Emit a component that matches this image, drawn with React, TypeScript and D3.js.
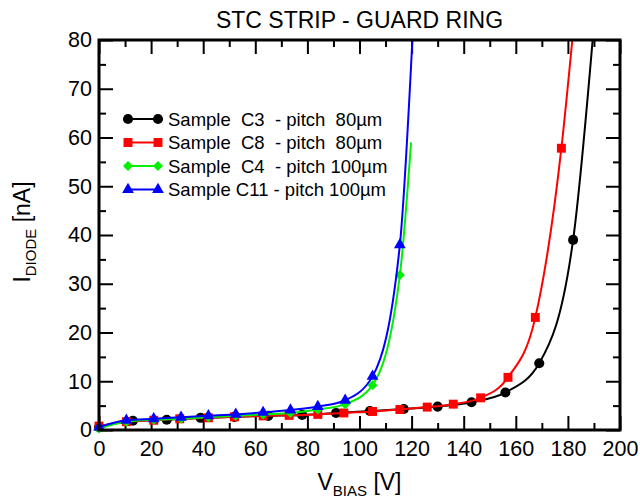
import React, { useEffect, useRef } from 'react';
import * as d3 from 'd3';

// Sample C3 - pitch 80um (black circles)
const c3V = [0, 13, 26, 39, 52, 65, 78, 91, 104, 117, 130, 143, 156, 169, 182];
const c3I = [0.6, 1.9, 2.1, 2.5, 2.7, 2.9, 3.1, 3.5, 3.9, 4.3, 4.8, 5.7, 7.7, 13.7, 39];
const c3Tail = [189.5, 80];

// Sample C8 - pitch 80um (red squares)
const c8V = [0, 10.5, 21, 31, 42, 52, 63, 73, 84, 94, 105, 115.5, 126, 136, 146.5, 157, 167.5, 177.5];
const c8I = [0.8, 1.7, 2.0, 2.3, 2.5, 2.7, 2.9, 3.0, 3.2, 3.5, 3.8, 4.2, 4.7, 5.3, 6.6, 10.8, 23.1, 57.8];
const c8Tail = [181.7, 80];

// Sample C4 - pitch 100um (green diamonds)
const c4V = [0, 10.5, 21, 31.5, 42, 52.5, 63, 73.5, 84, 94.5, 105, 115.5];
const c4I = [0.3, 1.7, 2.1, 2.3, 2.6, 2.9, 3.2, 3.5, 4.2, 5.3, 9.2, 31.8];
const c4Tail = [119.8, 59];

// Sample C11 - pitch 100um (blue triangles)
const c11V = [0, 10.5, 21, 31.5, 42, 52.5, 63, 73.5, 84, 94.5, 105, 115.5];
const c11I = [0.6, 2.0, 2.3, 2.6, 2.9, 3.2, 3.6, 4.1, 4.8, 6.1, 11.0, 38.0];
const c11Tail = [120.3, 80];

const xTicks = [0, 20, 40, 60, 80, 100, 120, 140, 160, 180, 200];
const yTicks = [0, 10, 20, 30, 40, 50, 60, 70, 80];

const series = [
  { label: 'Sample  C3  - pitch  80\u00b5m', color: '#000000', symbol: d3.symbolCircle, size: 80, rot: 0, v: c3V, i: c3I, tail: c3Tail },
  { label: 'Sample  C8  - pitch  80\u00b5m', color: '#ff0000', symbol: d3.symbolSquare, size: 80, rot: 0, v: c8V, i: c8I, tail: c8Tail },
  { label: 'Sample  C4  - pitch 100\u00b5m', color: '#00f000', symbol: d3.symbolSquare, size: 50, rot: 45, v: c4V, i: c4I, tail: c4Tail },
  { label: 'Sample C11 - pitch 100\u00b5m', color: '#0000ff', symbol: d3.symbolTriangle, size: 60, rot: 0, v: c11V, i: c11I, tail: c11Tail },
];

const W = 640, H = 500;
const p = { top: 40, left: 99, right: 20, bottom: 70 };
const font = '"Liberation Sans", Arial, Helvetica, sans-serif';

export default function App() {
  const ref = useRef<SVGSVGElement>(null);

  useEffect(() => {
    const svg = d3.select(ref.current);
    svg.selectAll('*').remove();

    const x = d3.scaleLinear().domain([0, 200]).range([p.left, W - p.right]);
    const y = d3.scaleLinear().domain([0, 80]).range([H - p.bottom, p.top]);

    // title
    svg.append('text')
      .attr('x', (p.left + W - p.right) / 2).attr('y', 28)
      .attr('text-anchor', 'middle')
      .attr('font-family', font).attr('font-size', 23)
      .text('STC STRIP - GUARD RING');

    // axes, ticks pointing inward on all four sides
    const minorX = d3.range(10, 200, 20);
    const minorY = d3.range(5, 80, 10);
    const major = 14, minor = 7;

    const styleAxis = (g: any) => {
      g.select('.domain').remove();
      g.selectAll('line').attr('stroke', '#000').attr('stroke-width', 2);
      g.selectAll('text').attr('font-family', font).attr('font-size', 21.5).attr('fill', '#000');
    };

    svg.append('g').attr('transform', `translate(0,${y(0)})`)
      .call(d3.axisBottom(x).tickValues(xTicks).tickSize(-major).tickPadding(11).tickFormat(d3.format('d')))
      .call(styleAxis);
    svg.append('g').attr('transform', `translate(0,${y(0)})`)
      .call(d3.axisBottom(x).tickValues(minorX).tickSize(-minor).tickFormat(() => ''))
      .call(styleAxis);
    svg.append('g').attr('transform', `translate(0,${y(80)})`)
      .call(d3.axisTop(x).tickValues(xTicks).tickSize(-major).tickFormat(() => ''))
      .call(styleAxis);
    svg.append('g').attr('transform', `translate(0,${y(80)})`)
      .call(d3.axisTop(x).tickValues(minorX).tickSize(-minor).tickFormat(() => ''))
      .call(styleAxis);

    svg.append('g').attr('transform', `translate(${x(0)},0)`)
      .call(d3.axisLeft(y).tickValues(yTicks).tickSize(-major).tickPadding(7).tickFormat(d3.format('d')))
      .call(styleAxis);
    svg.append('g').attr('transform', `translate(${x(0)},0)`)
      .call(d3.axisLeft(y).tickValues(minorY).tickSize(-minor).tickFormat(() => ''))
      .call(styleAxis);
    svg.append('g').attr('transform', `translate(${x(200)},0)`)
      .call(d3.axisRight(y).tickValues(yTicks).tickSize(-major).tickFormat(() => ''))
      .call(styleAxis);
    svg.append('g').attr('transform', `translate(${x(200)},0)`)
      .call(d3.axisRight(y).tickValues(minorY).tickSize(-minor).tickFormat(() => ''))
      .call(styleAxis);

    // curves
    const line = d3.line<number[]>()
      .x(d => x(d[0]))
      .y(d => y(d[1]))
      .curve(d3.curveMonotoneX);

    series.forEach(s => {
      const pts = s.v.map((v, k) => [v, s.i[k]]);
      svg.append('path')
        .attr('d', line([...pts, s.tail]))
        .attr('fill', 'none')
        .attr('stroke', s.color)
        .attr('stroke-width', 2);
      svg.append('g').selectAll('path')
        .data(pts)
        .enter()
        .append('path')
        .attr('d', d3.symbol().type(s.symbol).size(s.size)())
        .attr('transform', d => `translate(${x(d[0])},${y(d[1])}) rotate(${s.rot})`)
        .attr('fill', s.color);
    });

    // frame
    svg.append('rect')
      .attr('x', x(0)).attr('y', y(80))
      .attr('width', x(200) - x(0)).attr('height', y(0) - y(80))
      .attr('fill', 'none').attr('stroke', '#000').attr('stroke-width', 3);

    // legend
    const lg = svg.append('g');
    series.forEach((s, k) => {
      const ly = 119 + k * 23.5;
      lg.append('line')
        .attr('x1', 128).attr('x2', 158).attr('y1', ly).attr('y2', ly)
        .attr('stroke', s.color).attr('stroke-width', 2);
      [128, 158].forEach(lx => {
        lg.append('path')
          .attr('d', d3.symbol().type(s.symbol).size(s.size)())
          .attr('transform', `translate(${lx},${ly}) rotate(${s.rot})`)
          .attr('fill', s.color);
      });
      lg.append('text')
        .attr('x', 168).attr('y', ly + 6.5)
        .attr('font-family', font).attr('font-size', 18.5)
        .style('white-space', 'pre')
        .text(s.label);
    });

    // axis titles
    const xl = svg.append('text')
      .attr('x', (p.left + W - p.right) / 2).attr('y', 490)
      .attr('text-anchor', 'middle')
      .attr('font-family', font).attr('font-size', 23);
    xl.append('tspan').text('V');
    xl.append('tspan').attr('font-size', 15).attr('dy', 6).text('BIAS');
    xl.append('tspan').attr('dy', -6).text(' [V]');

    const yl = svg.append('text')
      .attr('transform', `translate(30,${232}) rotate(-90)`)
      .attr('text-anchor', 'middle')
      .attr('font-family', font).attr('font-size', 23);
    yl.append('tspan').text('I');
    yl.append('tspan').attr('font-size', 15).attr('dy', 6).text('DIODE');
    yl.append('tspan').attr('dy', -6).text(' [nA]');
  }, []);

  return (
    <svg ref={ref} width={W} height={H}
      style={{ position: 'absolute', left: 0, top: 0, background: '#fff' }} />
  );
}
